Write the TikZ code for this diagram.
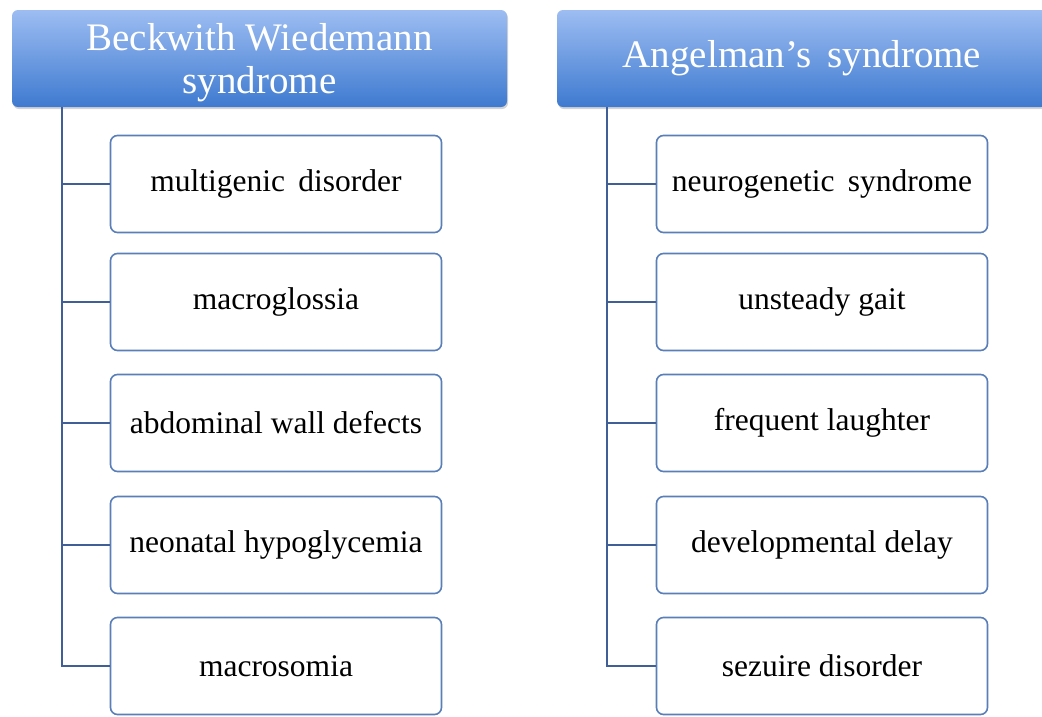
\documentclass[tikz,border=0pt]{standalone}
\usepackage{fontspec}
\setmainfont{Liberation Serif}
\usetikzlibrary{shadows}
\definecolor{hdtop}{HTML}{9DBDF2}
\definecolor{hdbot}{HTML}{3E7AD0}
\definecolor{boxline}{HTML}{5A7FB8}
\definecolor{conline}{HTML}{3F5F96}
\tikzset{
  header/.style={draw=none, rounded corners=6pt, top color=hdtop, bottom color=hdbot,
    minimum height=97pt, text=white, font=\fontsize{39}{43}\selectfont, align=center,
    drop shadow={shadow xshift=1pt, shadow yshift=-2pt, opacity=0.35}},
  child/.style={draw=boxline, line width=1.6pt, rounded corners=7pt, fill=white,
    minimum width=331pt, minimum height=97pt, font=\fontsize{31.5}{36}\selectfont},
  conn/.style={draw=conline, line width=2.5pt}
}
\begin{document}
\begin{tikzpicture}[x=1pt,y=-1pt]
\useasboundingbox (0,0) rectangle (1042,716);
\node[header, minimum width=495pt] (h1) at (259.5,58.5) {\raisebox{-5pt}[\height][\depth]{\begin{tabular}{@{}c@{}}Beckwith Wiedemann\\syndrome\end{tabular}}};
\node[header, minimum width=490pt] (h2) at (802,58.5) {Angelman's\, syndrome};
\coordinate (v1) at (62,107);
\coordinate (v2) at (607,107);
\foreach \n/\y/\t in {1/184/multigenic\, disorder, 2/302/macroglossia, 3/423/abdominal wall defects, 4/545/neonatal hypoglycemia, 5/666/macrosomia}{
  \node[child] (a\n) at (276,\y) {\t};
}
\foreach \n/\y/\t in {1/184/neurogenetic\, syndrome, 2/302/unsteady gait, 3/423/frequent laughter, 4/545/developmental delay, 5/666/sezuire disorder}{
  \node[child] (b\n) at (822,\y) {\t};
}
\draw[conn] (v1) |- (a5.west);
\draw[conn] (v2) |- (b5.west);
\foreach \n in {1,2,3,4}{
  \draw[conn] (a\n.west) -- (a\n.west -| v1);
  \draw[conn] (b\n.west) -- (b\n.west -| v2);
}
\end{tikzpicture}
\end{document}
